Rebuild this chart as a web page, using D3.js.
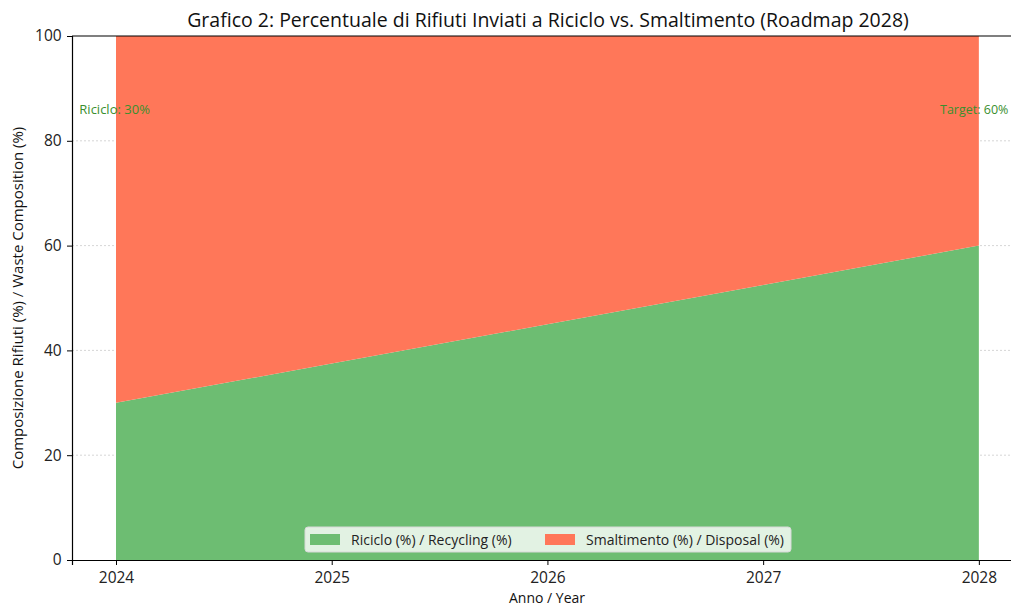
<!DOCTYPE html>
<html>
<head>
<meta charset="utf-8">
<script src="https://cdn.jsdelivr.net/npm/d3@7"></script>
<style>
  body { margin: 0; background: #fff; }
  svg { font-family: "Open Sans", Roboto, sans-serif; }
</style>
</head>
<body>
<div id="chart"></div>
<script>
const years = [2024, 2025, 2026, 2027, 2028];
const recycling = [30, 37.5, 45, 52.5, 60];
const disposal = [70, 62.5, 55, 47.5, 40];
const yTicks = [0, 20, 40, 60, 80, 100];
const seriesNames = ['Riciclo (%) / Recycling (%)', 'Smaltimento (%) / Disposal (%)'];

const W = 1011, H = 606;
const M = { top: 36, right: -11, bottom: 46, left: 72 };
const GREEN = '#6dbd72', RED = '#ff7759';

const svg = d3.select('#chart').append('svg').attr('width', W).attr('height', H);

const x = d3.scaleLinear().domain([2023.796, 2028.2]).range([M.left, W - M.right]);
const y = d3.scaleLinear().domain([0, 100]).range([H - M.bottom, M.top]);

const rows = years.map((yr, i) => ({ year: yr, rec: recycling[i], dis: disposal[i] }));
const stacked = d3.stack().keys(['rec', 'dis'])(rows);

svg.append('defs').append('clipPath').attr('id', 'clip-plot')
  .append('rect').attr('x', M.left).attr('y', M.top)
  .attr('width', W - M.left - M.right).attr('height', H - M.top - M.bottom);

const g = svg.append('g').attr('clip-path', 'url(#clip-plot)');

// grid
g.append('g').selectAll('line')
  .data(yTicks.filter(t => t > 0 && t < 100)).join('line')
  .attr('x1', M.left).attr('x2', W)
  .attr('y1', d => y(d)).attr('y2', d => y(d))
  .attr('stroke', '#cccccc').attr('stroke-width', 0.8).attr('stroke-dasharray', '2,2');

const area = d3.area()
  .x(d => x(d.data.year))
  .y0(d => y(d[0]))
  .y1(d => y(d[1]));

g.append('g').selectAll('path')
  .data(stacked).join('path')
  .attr('d', area)
  .attr('fill', (d, i) => i === 0 ? GREEN : RED);

// annotations
g.append('text').attr('x', x(2023.83)).attr('y', y(85.9) + 4)
  .attr('fill', '#3a8f2e').attr('font-size', '13px').text('Riciclo: 30%');
g.append('text').attr('x', x(2027.82)).attr('y', y(85.9) + 4)
  .attr('fill', '#3a8f2e').attr('font-size', '12.5px').text('Target: 60%');

// axes
const xAxis = svg.append('g').attr('transform', `translate(0,${H - M.bottom})`)
  .call(d3.axisBottom(x).tickValues(years).tickFormat(d3.format('d')).tickSizeOuter(0).tickSize(5));
const yAxis = svg.append('g').attr('transform', `translate(${M.left},0)`)
  .call(d3.axisLeft(y).tickValues(yTicks).tickSizeOuter(0).tickSize(5));
[xAxis, yAxis].forEach(a => {
  a.selectAll('.domain').attr('stroke', '#000').attr('stroke-width', 1.2);
  a.selectAll('.tick line').attr('stroke', '#000');
  a.selectAll('.tick text').attr('font-size', '15.5px').attr('fill', '#222')
    .attr('font-family', '"Open Sans", sans-serif');
});
xAxis.selectAll('.tick text').attr('dy', '0.95em');
yAxis.selectAll('.tick text').attr('dx', '-0.15em');

// top spine
svg.append('line').attr('x1', M.left).attr('x2', W).attr('y1', M.top).attr('y2', M.top)
  .attr('stroke', '#000').attr('stroke-width', 1.2);

// titles
svg.append('text').attr('x', 548).attr('y', 27).attr('text-anchor', 'middle')
  .attr('font-size', '19.5px').attr('fill', '#111')
  .text('Grafico 2: Percentuale di Rifiuti Inviati a Riciclo vs. Smaltimento (Roadmap 2028)');
svg.append('text').attr('x', 547).attr('y', 603).attr('text-anchor', 'middle')
  .attr('font-size', '14px').attr('fill', '#111').text('Anno / Year');
svg.append('text').attr('transform', `translate(23,${(M.top + H - M.bottom) / 2}) rotate(-90)`)
  .attr('text-anchor', 'middle').attr('font-size', '15px').attr('fill', '#111')
  .text('Composizione Rifiuti (%) / Waste Composition (%)');

// legend
const lg = svg.append('g').attr('transform', 'translate(305,527)');
lg.append('rect').attr('width', 486).attr('height', 25).attr('rx', 3)
  .attr('fill', 'rgba(255,255,255,0.8)').attr('stroke', '#d8d8d8');
const items = [{ x: 5, c: GREEN, t: seriesNames[0] }, { x: 240, c: RED, t: seriesNames[1] }];
items.forEach(it => {
  lg.append('rect').attr('x', it.x).attr('y', 7).attr('width', 30).attr('height', 11).attr('fill', it.c);
  lg.append('text').attr('x', it.x + 41).attr('y', 17.5).attr('font-size', '14px').attr('fill', '#222').text(it.t);
});
</script>
</body>
</html>
